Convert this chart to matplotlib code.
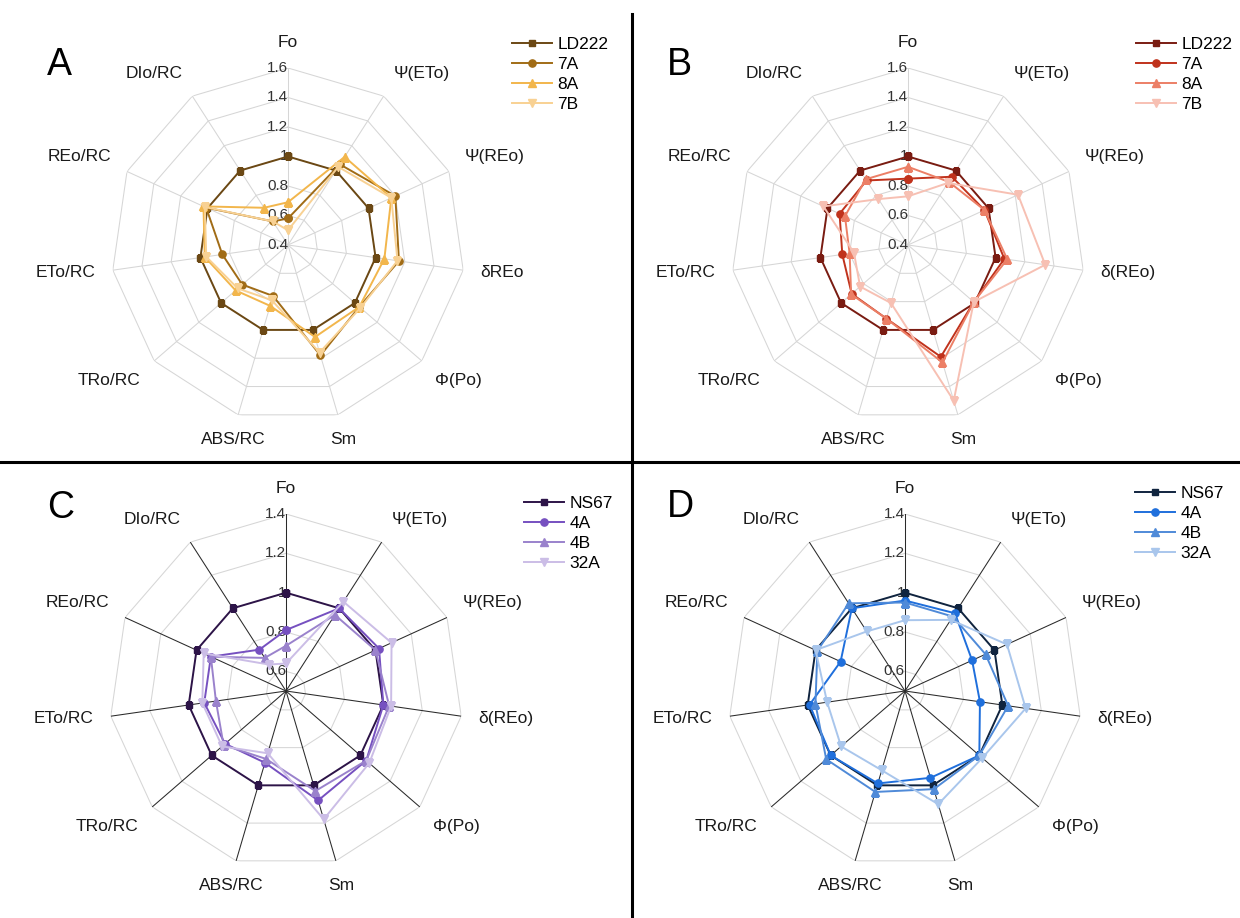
import numpy as np
import matplotlib
matplotlib.use("Agg")
import matplotlib.pyplot as plt
from matplotlib.lines import Line2D

plt.rcParams['font.family'] = ['Liberation Sans', 'DejaVu Sans']

# JIP-test parameters, clockwise from the top
params_a = ['Fo', 'Ψ(ETo)', 'Ψ(REo)', 'δREo', 'Φ(Po)', 'Sm',
            'ABS/RC', 'TRo/RC', 'ETo/RC', 'REo/RC', 'DIo/RC']
params_bcd = ['Fo', 'Ψ(ETo)', 'Ψ(REo)', 'δ(REo)', 'Φ(Po)', 'Sm',
              'ABS/RC', 'TRo/RC', 'ETo/RC', 'REo/RC', 'DIo/RC']

# panel A
a_names = ['LD222', '7A', '8A', '7B']
a_ld222 = [1.0, 1.0, 1.0, 1.0, 1.0, 1.0, 1.0, 1.0, 1.0, 1.0, 1.0]
a_7a = [0.58, 1.05, 1.20, 1.16, 1.04, 1.18, 0.76, 0.81, 0.85, 1.01, 0.59]
a_8a = [0.69, 1.11, 1.17, 1.06, 1.04, 1.05, 0.83, 0.87, 0.97, 1.03, 0.70]
a_7b = [0.50, 1.03, 1.17, 1.15, 1.05, 1.16, 0.79, 0.85, 0.96, 1.02, 0.59]

# panel B
b_names = ['LD222', '7A', '8A', '7B']
b_ld222 = [1.0, 1.0, 1.0, 1.0, 1.0, 1.0, 1.0, 1.0, 1.0, 1.0, 1.0]
b_7a = [0.85, 0.95, 0.97, 1.06, 0.99, 1.19, 0.92, 0.905, 0.85, 0.91, 0.92]
b_8a = [0.93, 0.91, 0.97, 1.08, 0.99, 1.23, 0.92, 0.91, 0.80, 0.87, 0.93]
b_7b = [0.73, 0.90, 1.22, 1.34, 0.99, 1.50, 0.81, 0.83, 0.77, 1.03, 0.77]

# panel C
c_names = ['NS67', '4A', '4B', '32A']
c_ns67 = [1.0, 1.0, 1.0, 1.0, 1.0, 1.0, 1.0, 1.0, 1.0, 1.0, 1.0]
c_4a = [0.81, 1.00, 1.02, 1.00, 1.04, 1.08, 0.88, 0.91, 0.92, 0.92, 0.75]
c_4b = [0.73, 0.96, 1.00, 1.03, 1.04, 1.03, 0.86, 0.92, 0.86, 0.92, 0.70]
c_32a = [0.64, 1.04, 1.09, 1.04, 1.06, 1.18, 0.83, 0.93, 0.93, 0.96, 0.66]

# panel D
d_names = ['NS67', '4A', '4B', '32A']
d_ns67 = [1.0, 1.0, 1.0, 1.0, 1.0, 1.0, 1.0, 1.0, 1.0, 1.0, 1.0]
d_4a = [0.96, 0.97, 0.875, 0.885, 1.00, 0.96, 0.99, 1.00, 0.99, 0.86, 1.00]
d_4b = [0.95, 0.95, 0.95, 1.03, 1.00, 1.02, 1.035, 1.03, 0.96, 0.99, 1.03]
d_32a = [0.86, 0.93, 1.07, 1.12, 1.02, 1.10, 0.92, 0.93, 0.90, 1.00, 0.86]

ticks_ab = [0.4, 0.6, 0.8, 1.0, 1.2, 1.4, 1.6]
ticks_cd = [0.6, 0.8, 1.0, 1.2, 1.4]

markers = ['s', 'o', '^', 'v']
msizes = [4.6, 5.2, 5.6, 5.6]

W, H = 1240, 918
R = 177
fig = plt.figure(figsize=(W / 100, H / 100), dpi=100)


def tick_text(v):
    return '%g' % v


def radar(cx, cy, labels, vmin, vmax, ticks, series, names, colors,
          spoke_color, letter, letter_xy, legend_xy):
    ax = fig.add_axes([(cx - R) / W, (H - cy - R) / H, 2 * R / W, 2 * R / H],
                      projection='polar')
    ax.set_theta_zero_location('N')
    ax.set_theta_direction(-1)
    ax.set_ylim(vmin, vmax)
    ax.axis('off')
    n = len(labels)
    theta = np.arange(n) * 2 * np.pi / n
    closed = np.append(theta, theta[0])

    # polygon grid and spokes
    for lv in ticks:
        if lv > vmin:
            ax.plot(closed, [lv] * (n + 1), color='#d6d6d6', lw=0.75, zorder=1)
    for t in theta:
        ax.plot([t, t], [vmin, vmax], color=spoke_color, lw=0.75, zorder=1)
    for lv in ticks:
        ax.text(0, lv, tick_text(lv), ha='right', va='center',
                fontsize=11, color='#333333', zorder=2)

    # category labels outside the outer ring
    r_lab = vmin + 1.1 * (vmax - vmin)
    for t, lab in zip(theta, labels):
        s, c = np.sin(t), np.cos(t)
        ha = 'center' if abs(s) < 0.3 else ('left' if s > 0 else 'right')
        va = 'center' if abs(c) < 0.3 else ('bottom' if c > 0 else 'top')
        ax.text(t, r_lab, lab, ha=ha, va=va, fontsize=12.5, color='#1a1a1a')

    handles = []
    for vals, name, col, mk, ms in zip(series, names, colors, markers, msizes):
        ax.plot(closed, vals + vals[:1], color=col, lw=1.4, marker=mk,
                markersize=ms, markerfacecolor=col, markeredgecolor=col, zorder=3)
        handles.append(Line2D([], [], color=col, lw=1.4, marker=mk, markersize=ms,
                              markerfacecolor=col, markeredgecolor=col, label=name))

    fig.legend(handles=handles, loc='upper left',
               bbox_to_anchor=(legend_xy[0] / W, 1 - legend_xy[1] / H),
               bbox_transform=fig.transFigure, frameon=False, fontsize=12.5,
               handlelength=2.3, handletextpad=0.3, labelspacing=0.28,
               borderpad=0, borderaxespad=0)
    fig.text(letter_xy[0] / W, 1 - letter_xy[1] / H, letter, fontsize=27,
             va='baseline', ha='left', color='black')


radar(288, 245, params_a, 0.4, 1.6, ticks_ab,
      [a_ld222, a_7a, a_8a, a_7b], a_names,
      ['#6b4814', '#a16c16', '#f2b64c', '#f8d193'],
      '#d6d6d6', 'A', (47, 75), (512, 37))

radar(908, 245, params_bcd, 0.4, 1.6, ticks_ab,
      [b_ld222, b_7a, b_8a, b_7b], b_names,
      ['#7a1c12', '#c0321c', '#ec7f66', '#f7c0b3'],
      '#d6d6d6', 'B', (667, 75), (1136, 37))

radar(286, 691, params_bcd, 0.5, 1.4, ticks_cd,
      [c_ns67, c_4a, c_4b, c_32a], c_names,
      ['#2d1448', '#7650c0', '#9a82cc', '#cbbde6'],
      '#2a2a2a', 'C', (47, 518), (524, 496))

radar(905, 691, params_bcd, 0.5, 1.4, ticks_cd,
      [d_ns67, d_4a, d_4b, d_32a], d_names,
      ['#10243f', '#1f6fdc', '#4f8ad8', '#a9c6ec'],
      '#2a2a2a', 'D', (667, 517), (1135, 486))

# panel dividers
fig.add_artist(Line2D([632 / W, 632 / W], [0, 1 - 14 / H], transform=fig.transFigure,
                      color='black', lw=2.2))
fig.add_artist(Line2D([0, 1], [1 - 462 / H, 1 - 462 / H], transform=fig.transFigure,
                      color='black', lw=2.2))

fig.savefig('out.png', dpi=100, facecolor='white')
